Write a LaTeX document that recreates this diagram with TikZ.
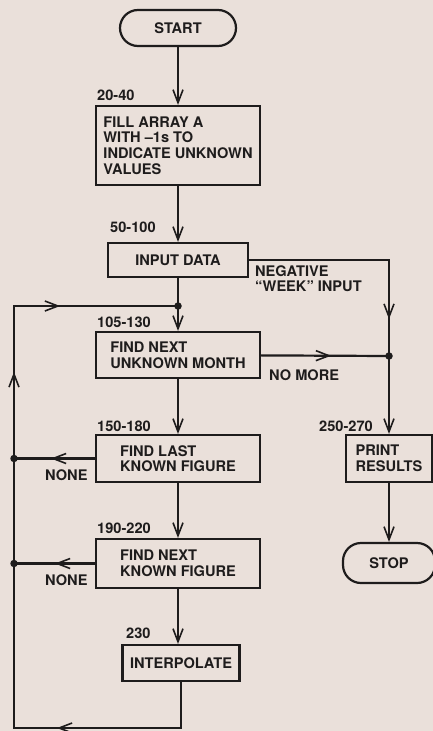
\documentclass[tikz,border=0pt]{standalone}
\usepackage{fontspec}
\setmainfont{TeX Gyre Heros}
\usetikzlibrary{arrows.meta, decorations.markings, positioning}
\definecolor{paper}{RGB}{234,224,218}
\definecolor{ink}{RGB}{30,28,28}

\begin{document}
\begin{tikzpicture}[
    x=1pt, y=-1pt,
    font=\bfseries\fontsize{14.6}{15.6}\selectfont,
    Flow/.tip={Straight Barb[length=13pt, width=10pt, line width=1.6pt]},
    box style/.style={draw=ink, text=ink, fill=paper, line width=2.2pt,
        minimum width=164pt, minimum height=47pt, align=left, inner sep=3pt},
    end style/.style={box style, rounded corners=18pt, minimum height=36pt, align=center},
    num style/.style={text=ink, anchor=base west, inner sep=0pt},
    note style/.style={text=ink, anchor=north west, inner sep=0pt, align=left},
    dot style/.style={circle, fill=ink, inner sep=0pt, minimum size=7.5pt},
    line style/.style={draw=ink, line width=2.2pt},
    mid tip/.style={postaction={decorate, decoration={markings,
        mark=at position #1 with {\arrow{Flow}}}}}
]

% SAME BOUNDING BOX
\fill[paper] (0,0) rectangle (433,731);
\path[use as bounding box] (0,0) rectangle (433,731);

% main column
\node[end style, minimum width=116pt] (start) at (178,28) {START};
\node[box style, minimum height=79pt] (fill) at (178,145.5)
    {FILL ARRAY A\\WITH –1s TO\\INDICATE UNKNOWN\\VALUES};
\node[box style, minimum width=140pt, minimum height=34pt, align=center] (input) at (178,260) {INPUT DATA};
\node[box style, minimum height=46pt] (unknown) at (178,355) {FIND NEXT\\UNKNOWN MONTH};
\node[box style] (last) at (178,458.5) {FIND LAST\\KNOWN FIGURE};
\node[box style, minimum height=49pt] (nextknown) at (178,563.5) {FIND NEXT\\KNOWN FIGURE};
\node[box style, minimum width=117pt, minimum height=36pt, align=center] (interp) at (181,663) {INTERPOLATE};

% right column
\node[box style, minimum width=86pt] (print) at (389,458.5) {PRINT\\RESULTS};
\node[end style, minimum width=92pt, minimum height=40pt] (stop) at (389,563) {STOP};

% line numbers
\node[num style] (n20) at (97,100) {20-40};
\node[num style] (n50) at (110,232) {50-100};
\node[num style] (n105) at (97,327) {105-130};
\node[num style] (n150) at (97,431) {150-180};
\node[num style] (n250) at (319,431) {250-270};
\node[num style] (n190) at (97,533) {190-220};
\node[num style] (n230) at (126,638) {230};

% branch notes
\node[note style] (neg) at (255,265) {NEGATIVE\\“WEEK” INPUT};
\node[note style] (nomore) at (269,369) {NO MORE};
\node[note style] (none1) at (45,469) {NONE};
\node[note style] (none2) at (45,574) {NONE};

% corners and junctions
\coordinate (j1) at (178,306);
\coordinate (j2) at (389,356);
\coordinate (k1) at (389,260);
\coordinate (l1) at (14,306);
\coordinate (l2) at (14,458.5);
\coordinate (l3) at (14,563.5);
\coordinate (l4) at (14,728);
\coordinate (b1) at (181,728);

% connectors
\draw[line style, -Flow] (start) -- (fill);
\draw[line style, -Flow] (fill) -- (input);
\draw[line style] (input) -- (j1);
\draw[line style, -Flow] (j1) -- (unknown);
\draw[line style, -Flow] (unknown) -- (last);
\draw[line style, -Flow] (last) -- (nextknown);
\draw[line style, -Flow] (nextknown.south) -- (nextknown.south |- interp.north);
\draw[line style, -Flow] (print) -- (stop);

\draw[line style, mid tip=199pt, -Flow] (input) -- (k1) -- (print);
\draw[line style, mid tip=70pt] (unknown) -- (j2);
\draw[line style, mid tip=44pt] (last) -- (l2);
\draw[line style, mid tip=40pt] (nextknown) -- (l3);

% loop back
\draw[line style, postaction={decorate}, decoration={markings,
    mark=at position 170pt with {\arrow{Flow}},
    mark=at position 569pt with {\arrow{Flow}},
    mark=at position 681pt with {\arrow{Flow}}}]
    (interp) -- (b1) -- (l4) -- (l1) -- (j1);

\node[dot style] (d1) at (j1) {};
\node[dot style] (d2) at (j2) {};
\node[dot style] (d3) at (l2) {};
\node[dot style] (d4) at (l3) {};

\end{tikzpicture}
\end{document}
